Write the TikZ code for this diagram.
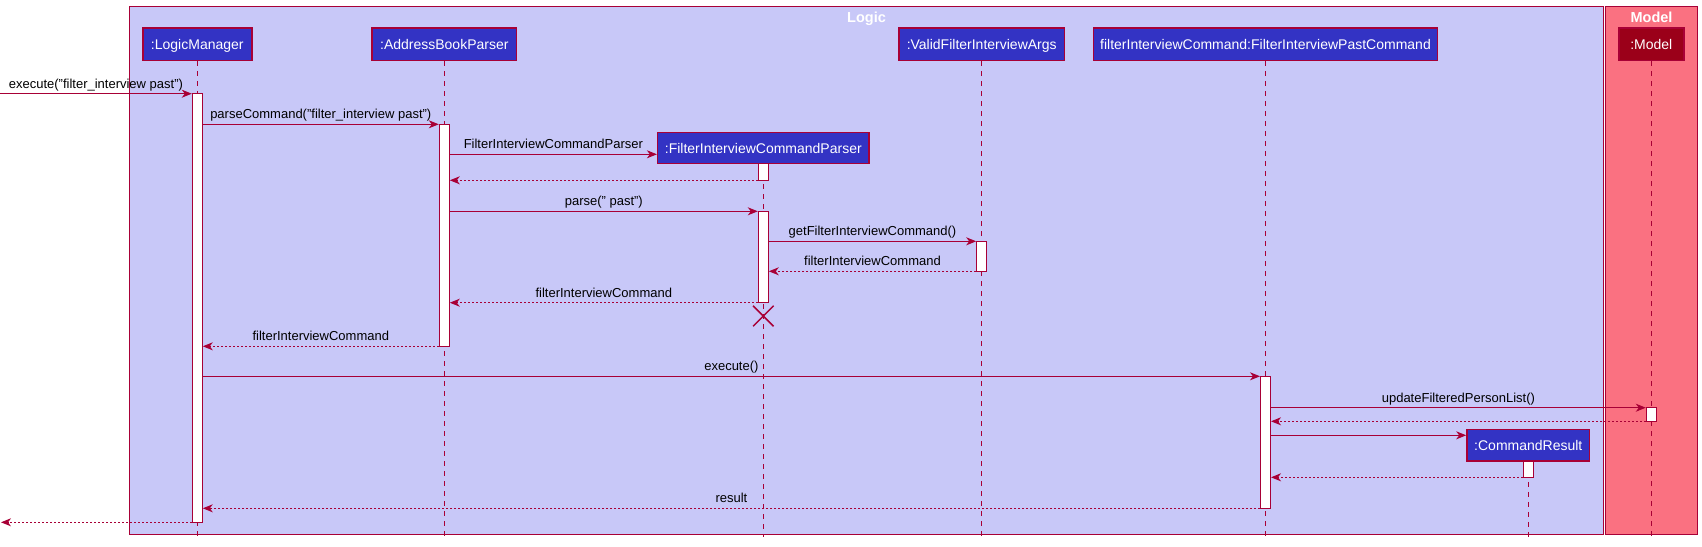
\documentclass[tikz,border=0pt]{standalone}
\usepackage{fontspec}
\setmainfont{Liberation Sans}
\usetikzlibrary{arrows.meta,shapes.misc}
\definecolor{brd}{RGB}{168,0,54}
\definecolor{logicbg}{RGB}{200,200,248}
\definecolor{modelbg}{RGB}{250,113,129}
\definecolor{partbg}{RGB}{51,51,196}
\definecolor{modelpart}{RGB}{155,0,25}
\begin{document}
\begin{tikzpicture}[x=1pt,y=-1pt,
  part/.style={draw=brd, line width=1.5pt, fill=partbg, text=white,
    font=\fontsize{14}{16}\selectfont, minimum height=32.7pt, inner sep=0pt,
    text height=10.5pt, text depth=0pt},
  actbar/.style={draw=brd, line width=1pt, fill=white, minimum width=10pt, inner sep=0pt},
  life/.style={draw=brd, line width=1pt, dash pattern=on 5pt off 5pt},
  msg/.style={draw=brd, line width=1pt, -{Stealth[length=10pt,width=8pt,inset=3pt]}},
  ret/.style={msg, dash pattern=on 2pt off 2pt},
  lbl/.style={font=\fontsize{13}{15}\selectfont, anchor=base, inner sep=0pt, yshift=5.5pt},
  frame/.style={draw=brd, line width=1pt},
  ftitle/.style={text=white, font=\fontsize{14.5}{16}\selectfont\bfseries, inner sep=0pt, anchor=base}
]
\useasboundingbox (0,0) rectangle (1702,546);

% frames
\draw[frame, fill=logicbg] (129.3,6.3) rectangle (1603.7,534.3);
\draw[frame, fill=modelbg] (1605.3,6.3) rectangle (1697.7,534.3);
\node[ftitle] (logicT) at (866.5,22) {Logic};
\node[ftitle] (modelT) at (1651.5,22) {Model};

% participants
\node[part, minimum width=109pt] (lm) at (197.3,44.35) {:LogicManager};
\node[part, minimum width=144.4pt] (abp) at (444.3,44.35) {:AddressBookParser};
\node[part, minimum width=165.3pt] (vfia) at (981.7,44.35) {:ValidFilterInterviewArgs};
\node[part, minimum width=344pt] (fipc) at (1265.5,44.35) {filterInterviewCommand:FilterInterviewPastCommand};
\node[part, minimum width=65pt, fill=modelpart] (model) at (1651.3,44.35) {:Model};
\node[part, minimum width=211.3pt, minimum height=31.4pt] (ficp) at (763.3,148) {:FilterInterviewCommandParser};
\node[part, minimum width=122.7pt, minimum height=31.7pt] (cr) at (1528.3,445.15) {:CommandResult};

% lifelines
\coordinate (bot) at (0,537);
\foreach \p in {lm,abp,vfia,fipc,model,ficp,cr}{
  \draw[life] (\p.south) -- (\p.south |- bot);
}

% activation bars
\node[actbar, minimum height=428.6pt] (lmA) at (197.3,308) {};
\node[actbar, minimum height=222pt] (abpA) at (444.3,235.3) {};
\node[actbar, minimum height=16.6pt] (ficpA1) at (763.3,172) {};
\node[actbar, minimum height=91.4pt] (ficpA2) at (763.3,257) {};
\node[actbar, minimum height=30pt] (vfiaA) at (981.7,256.3) {};
\node[actbar, minimum height=132pt] (fipcA) at (1265.5,442.3) {};
\node[actbar, minimum height=13.6pt] (modelA) at (1651.3,414.5) {};
\node[actbar, minimum height=16.3pt] (crA) at (1528.3,469.15) {};

% message rows
\coordinate (m1) at (0,93.7);
\coordinate (m2) at (0,124.3);
\coordinate (m3) at (0,154.3);
\coordinate (m4) at (0,180.3);
\coordinate (m5) at (0,211.3);
\coordinate (m6) at (0,241.3);
\coordinate (m7) at (0,271.3);
\coordinate (m8) at (0,302.7);
\coordinate (m9) at (0,346.3);
\coordinate (m10) at (0,376.3);
\coordinate (m11) at (0,407.7);
\coordinate (m12) at (0,421.3);
\coordinate (m13) at (0,435.3);
\coordinate (m14) at (0,477.3);
\coordinate (m15) at (0,508.3);
\coordinate (m16) at (0,522.3);
\coordinate (src) at (0,93.7);
\coordinate (dst) at (1,522.3);

\draw[msg] (src) -- node[lbl]{execute("filter\_interview past")} (lmA.west |- m1);
\draw[msg] (lmA.east |- m2) -- node[lbl]{parseCommand("filter\_interview past")} (abpA.west |- m2);
\draw[msg] (abpA.east |- m3) -- node[lbl]{FilterInterviewCommandParser} (ficp.west |- m3);
\draw[ret] (ficpA1.west |- m4) -- (abpA.east |- m4);
\draw[msg] (abpA.east |- m5) -- node[lbl]{parse(" past")} (ficpA2.west |- m5);
\draw[msg] (ficpA2.east |- m6) -- node[lbl]{getFilterInterviewCommand()} (vfiaA.west |- m6);
\draw[ret] (vfiaA.west |- m7) -- node[lbl]{filterInterviewCommand} (ficpA2.east |- m7);
\draw[ret] (ficpA2.west |- m8) -- node[lbl]{filterInterviewCommand} (abpA.east |- m8);
\draw[ret] (abpA.west |- m9) -- node[lbl]{filterInterviewCommand} (lmA.east |- m9);
\draw[msg] (lmA.east |- m10) -- node[lbl]{execute()} (fipcA.west |- m10);
\draw[msg] (fipcA.east |- m11) -- node[lbl]{updateFilteredPersonList()} (modelA.west |- m11);
\draw[ret] (modelA.west |- m12) -- (fipcA.east |- m12);
\draw[msg] (fipcA.east |- m13) -- (cr.west |- m13);
\draw[ret] (crA.west |- m14) -- (fipcA.east |- m14);
\draw[ret] (fipcA.west |- m15) -- node[lbl]{result} (lmA.east |- m15);
\draw[ret] (lmA.west |- m16) -- (dst);

% destruction
\node[draw=brd, cross out, line width=1.5pt, minimum size=19pt, inner sep=0pt] (destroy) at (763.3,316) {};
\end{tikzpicture}
\end{document}
